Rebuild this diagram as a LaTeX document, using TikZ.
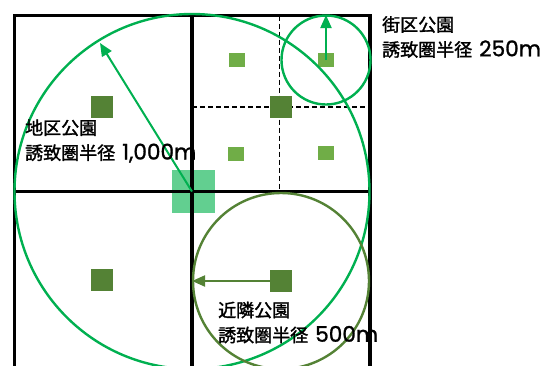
\documentclass[tikz,border=0pt]{standalone}
\usepackage{fontspec}
\newfontfamily\jp[FakeBold=1.6]{Noto Sans CJK JP}
\newfontfamily\lat[Scale=1.2,FakeBold=1.2]{Poppins}
\usetikzlibrary{arrows.meta}
\definecolor{brightgreen}{HTML}{00B050}
\definecolor{olivegreen}{HTML}{548235}
\definecolor{lightgreen}{HTML}{70AD47}
\definecolor{palegreen}{HTML}{62CF90}
\tikzset{
  gridline/.style={line width=3.3pt, line cap=rect},
  dashline/.style={line width=1.3pt, dash pattern=on 5pt off 3pt},
  darksq/.style={fill=olivegreen, minimum size=22pt, inner sep=0pt},
  lightsq/.style={fill=lightgreen, minimum width=16pt, minimum height=14pt, inner sep=0pt},
  bigsq/.style={fill=palegreen, minimum size=43pt, inner sep=0pt},
  ring/.style={line width=2.4pt},
  radarrow/.style={line width=2pt, -{Triangle[length=13pt,width=11pt]}},
  label/.style={font=\jp\fontsize{18}{25}\selectfont, align=left, inner sep=0pt, anchor=west}
}
\begin{document}
\begin{tikzpicture}[x=1pt,y=-1pt]
\useasboundingbox (0,0) rectangle (541,365);
\clip (0,0) rectangle (541,365);
% central pale square
\node[bigsq] (center) at (193.5,191.5) {};
% dashed sub-grid
\draw[dashline] (279.5,15.5) -- (279.5,191.5);
\draw[dashline] (192,107) -- (370,107);
% park squares
\node[darksq] (d1) at (102,107) {};
\node[darksq] (d2) at (281,107) {};
\node[darksq] (d3) at (102,280) {};
\node[darksq] (d4) at (281,281) {};
\node[lightsq] (l1) at (237,60) {};
\node[lightsq] (l2) at (326,60) {};
\node[lightsq] (l3) at (236,154) {};
\node[lightsq] (l4) at (326,153) {};
% main grid
\draw[gridline] (14.5,380) -- (14.5,15.5) -- (370,15.5) -- (370,380);
\draw[gridline] (192,15.5) -- (192,380);
\draw[gridline] (14.5,191.5) -- (370,191.5);
% circles
\coordinate (c1) at (192,191.5);
\draw[ring, brightgreen] (c1) circle[radius=177.5];
\draw[ring, brightgreen] (l2) circle[radius=44.5];
\draw[ring, olivegreen] (d4) circle[radius=88];
% radius arrows
\coordinate (t1) at (100,43);
\coordinate (t2) at (326,15);
\coordinate (t3) at (192,281);
\draw[radarrow, brightgreen] (c1) -- (t1);
\draw[radarrow, brightgreen] (l2.center) -- (t2);
\draw[radarrow, olivegreen] (d4.center) -- (t3);
% labels
\node[label] (txt1) at (25,141) {地区公園\\誘致圏半径\hspace{7pt}{\lat 1,000m}};
\node[label] (txt2) at (382,37) {街区公園\\誘致圏半径\hspace{7pt}{\lat 250m}};
\node[label] (txt3) at (218,322.5) {近隣公園\\誘致圏半径\hspace{7pt}{\lat 500m}};
\end{tikzpicture}
\end{document}
